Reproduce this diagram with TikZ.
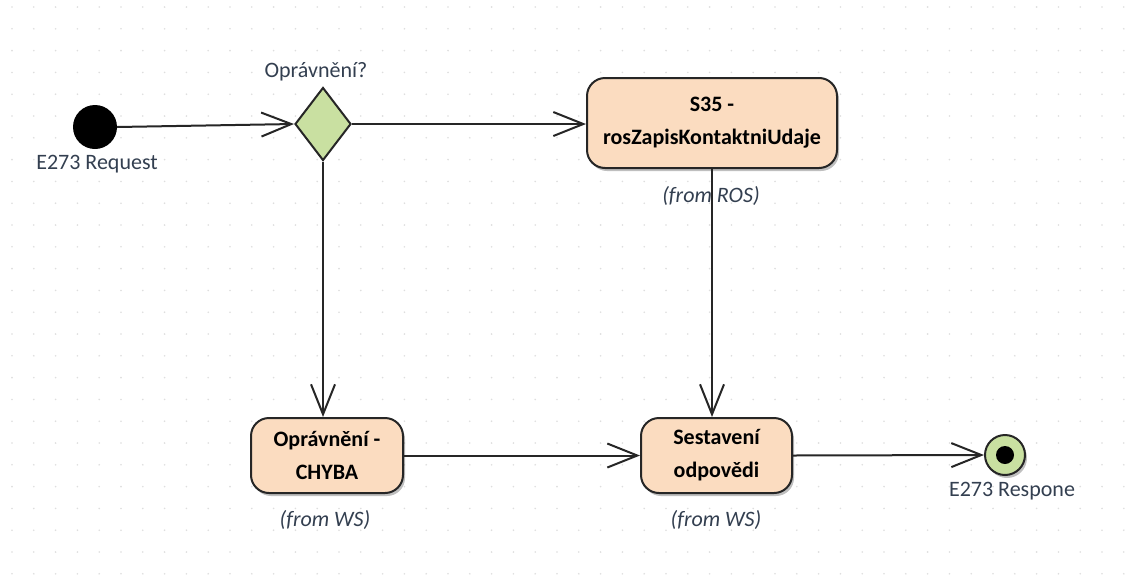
\documentclass[tikz,border=0pt]{standalone}
\usepackage{fontspec}
\setmainfont{Carlito}
\usetikzlibrary{arrows.meta,shapes.geometric,shadows}
\definecolor{boxfill}{HTML}{FBDCC0}
\definecolor{greenfill}{HTML}{C9E0A1}
\definecolor{labelcol}{HTML}{333F50}
\definecolor{gridcol}{HTML}{DEDEDE}
\begin{document}
\begin{tikzpicture}[x=1pt,y=-1pt,
  every node/.style={font=\fontsize{22}{33}\selectfont},
  actbox/.style={draw=black!85, line width=2pt, fill=boxfill, rounded corners=18pt,
    align=center, inner sep=0pt, font=\fontsize{22}{33}\selectfont\bfseries,
    drop shadow={shadow xshift=2pt, shadow yshift=-3pt, opacity=0.25, fill=black}},
  lbl/.style={text=labelcol, inner sep=0pt},
  flbl/.style={text=labelcol, inner sep=0pt, font=\fontsize{22}{26}\selectfont\itshape},
  flow/.style={draw=black!85, line width=2pt, -{Straight Barb[length=30pt,width=24pt,line width=2pt]}}
]
\useasboundingbox (0,0) rectangle (1137,587);
\fill[white] (0,0) rectangle (1137,587);
\foreach \i in {0,...,51} {
  \foreach \j in {0,...,26} {
    \fill[gridcol] ({12+21.8*\i},{7+21.8*\j}) circle (0.9pt);
  }
}
% nodes
\node[circle, fill=black, minimum size=44pt, inner sep=0pt] (start) at (95,127) {};
\node[lbl] (startlbl) at (97,164) {E273 Request};
\node[diamond, draw=black!85, line width=2pt, fill=greenfill, aspect=0.77,
  minimum width=56pt, minimum height=73pt, inner sep=0pt] (dia) at (323,124) {};
\node[lbl] (dialbl) at (316,72) {Oprávnění?};
\node[actbox, minimum width=250pt, minimum height=90pt] (s35) at (712,123) {S35 -\\rosZapisKontaktniUdaje};
\node[flbl] (s35lbl) at (711,196) {(from ROS)};
\node[actbox, minimum width=152pt, minimum height=75pt] (chyba) at (327,455.5) {Oprávnění -\\CHYBA};
\node[flbl] (chybalbl) at (325,520) {(from WS)};
\node[actbox, minimum width=151pt, minimum height=75pt] (sest) at (716.5,455.5) {Sestavení\\odpovědi};
\node[flbl] (sestlbl) at (716,520) {(from WS)};
\node[circle, draw=black!85, line width=2pt, fill=greenfill, minimum size=40pt, inner sep=0pt,
  drop shadow={shadow xshift=2pt, shadow yshift=-3pt, opacity=0.25, fill=black}] (end) at (1005,455) {};
\fill[black] (end.center) circle (9pt);
\node[lbl] (endlbl) at (1012,491) {E273 Respone};
% connectors
\draw[flow] (start.east) -- (dia.west);
\draw[flow] (dia.east) -- (s35.west |- dia.east);
\draw[flow] (dia.south) -- (dia.south |- chyba.north);
\draw[flow] (s35.south) -- (s35.south |- sest.north);
\draw[flow] (chyba.east) -- (sest.west);
\draw[flow] (sest.east) -- (end.west);
\end{tikzpicture}
\end{document}
